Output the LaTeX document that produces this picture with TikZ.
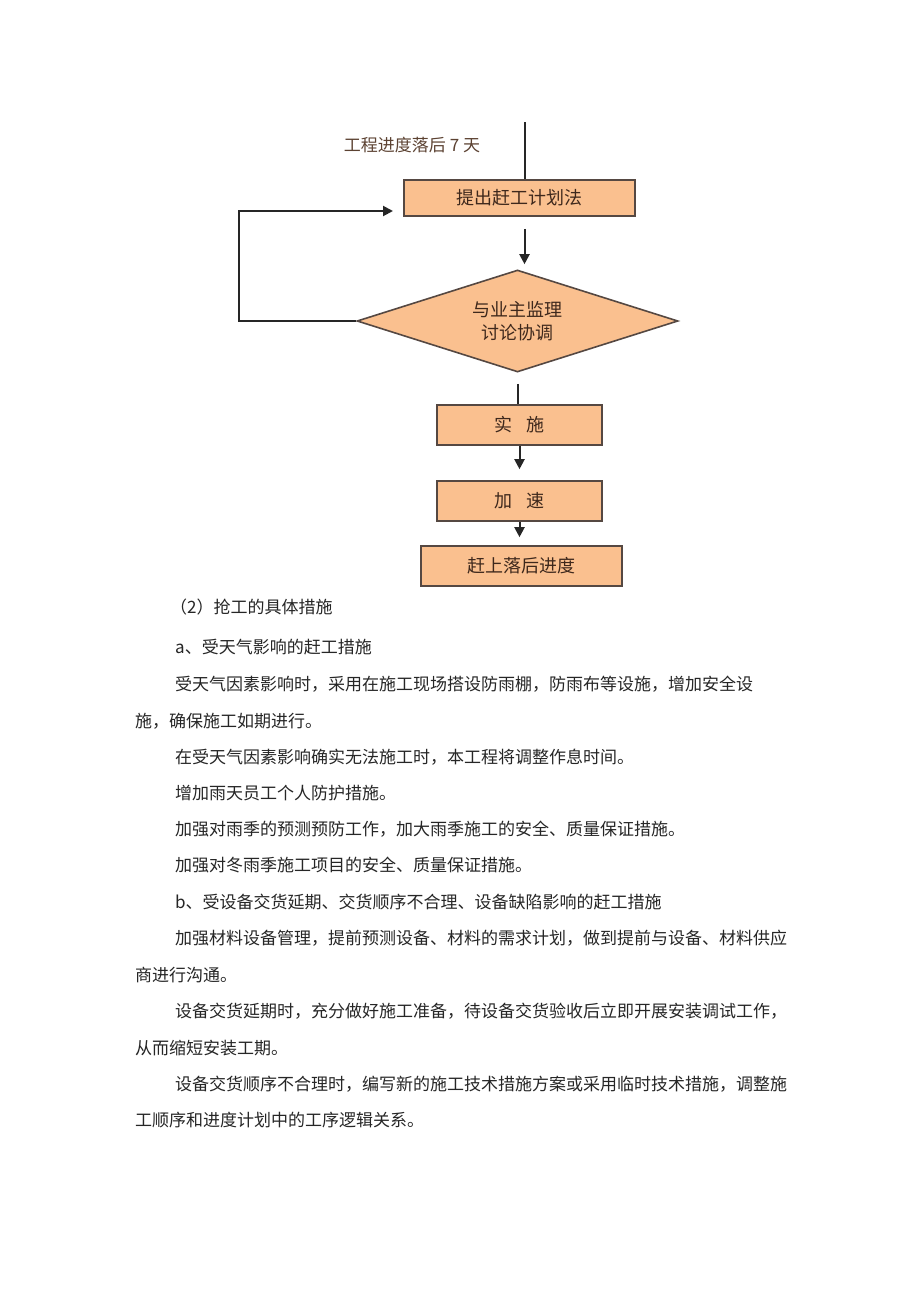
\documentclass[tikz,border=0pt]{standalone}
\usepackage{fontspec}
\newfontfamily\cjk{Noto Sans CJK SC}
\usetikzlibrary{shapes.geometric,arrows.meta}

\definecolor{peach}{RGB}{250,192,143}
\definecolor{edgegray}{RGB}{85,72,66}
\definecolor{flowtxt}{RGB}{62,40,28}
\definecolor{notetxt}{RGB}{92,66,50}

\tikzset{
          box/.style = {rectangle, draw=edgegray, fill=peach, line width=1.6pt, minimum width=#1, minimum height=40, inner sep=0pt, text=flowtxt, font=\cjk\fontsize{18}{22}\selectfont},
          choice/.style = {diamond, draw=edgegray, fill=peach, line width=1.6pt, aspect=3.15, minimum width=321, minimum height=102, inner sep=0pt, align=center, text=flowtxt, font=\cjk\fontsize{18}{23}\selectfont},
          wire/.style = {draw=black!85, line width=2pt},
          arr/.style = {wire, -{Triangle[length=10pt,width=10pt]}},
          note/.style = {text=notetxt, inner sep=0pt, font=\cjk\fontsize{17}{20}\selectfont},
          body/.style = {anchor=west, inner sep=0pt, text=black!85, font=\cjk\fontsize{17}{20}\selectfont}
        }

\begin{document}
\begin{tikzpicture}[x=1pt,y=-1pt]
          \useasboundingbox[fill=white] (0,0) rectangle (920,1301);

          % flow chart
          \node[note] (late) at (412,145) {工程进度落后 7 天};
          \node[box=231, minimum height=36] (plan) at (519.5,198) {提出赶工计划法};
          \node[choice] (talk) at (517.5,321) {与业主监理\\讨论协调};
          \node[box=165] (doit) at (519.5,425) {实\hspace{0.8em}施};
          \node[box=165] (speed) at (519.5,501) {加\hspace{0.8em}速};
          \node[box=201] (catch) at (521.5,566) {赶上落后进度};

          \coordinate (in) at (525,122);
          \coordinate (back) at (393,211);

          \draw[wire] (in) -- (in |- plan.north);
          \draw[arr, shorten <=12pt, shorten >=5pt] ([xshift=5pt]plan.south) -- ([xshift=5pt]plan.south |- talk.north);
          \draw[arr] (talk.west) -- ++(-117,0) |- (back);
          \draw[wire, shorten <=11pt] (talk.south) -- (talk.south |- doit.north);
          \draw[arr, shorten >=11pt] (doit.south) -- (speed.north);
          \draw[arr, shorten >=8pt] (speed.south) -- (speed.south |- catch.north);

          % text below
          \foreach \t/\x/\y [count=\i] in {
            {（2）抢工的具体措施}/170/607,
            {a、受天气影响的赶工措施}/175/647,
            {受天气因素影响时，采用在施工现场搭设防雨棚，防雨布等设施，增加安全设}/175/684,
            {施，确保施工如期进行。}/135/721,
            {在受天气因素影响确实无法施工时，本工程将调整作息时间。}/175/757,
            {增加雨天员工个人防护措施。}/175/793,
            {加强对雨季的预测预防工作，加大雨季施工的安全、质量保证措施。}/175/829,
            {加强对冬雨季施工项目的安全、质量保证措施。}/175/865,
            {b、受设备交货延期、交货顺序不合理、设备缺陷影响的赶工措施}/175/902,
            {加强材料设备管理，提前预测设备、材料的需求计划，做到提前与设备、材料供应}/175/938,
            {商进行沟通。}/135/975,
            {设备交货延期时，充分做好施工准备，待设备交货验收后立即开展安装调试工作，}/175/1011,
            {从而缩短安装工期。}/135/1048,
            {设备交货顺序不合理时，编写新的施工技术措施方案或采用临时技术措施，调整施}/175/1084,
            {工顺序和进度计划中的工序逻辑关系。}/135/1120}{
            \node[body] (line\i) at (\x,\y) {\t};
          }
        \end{tikzpicture}
\end{document}
